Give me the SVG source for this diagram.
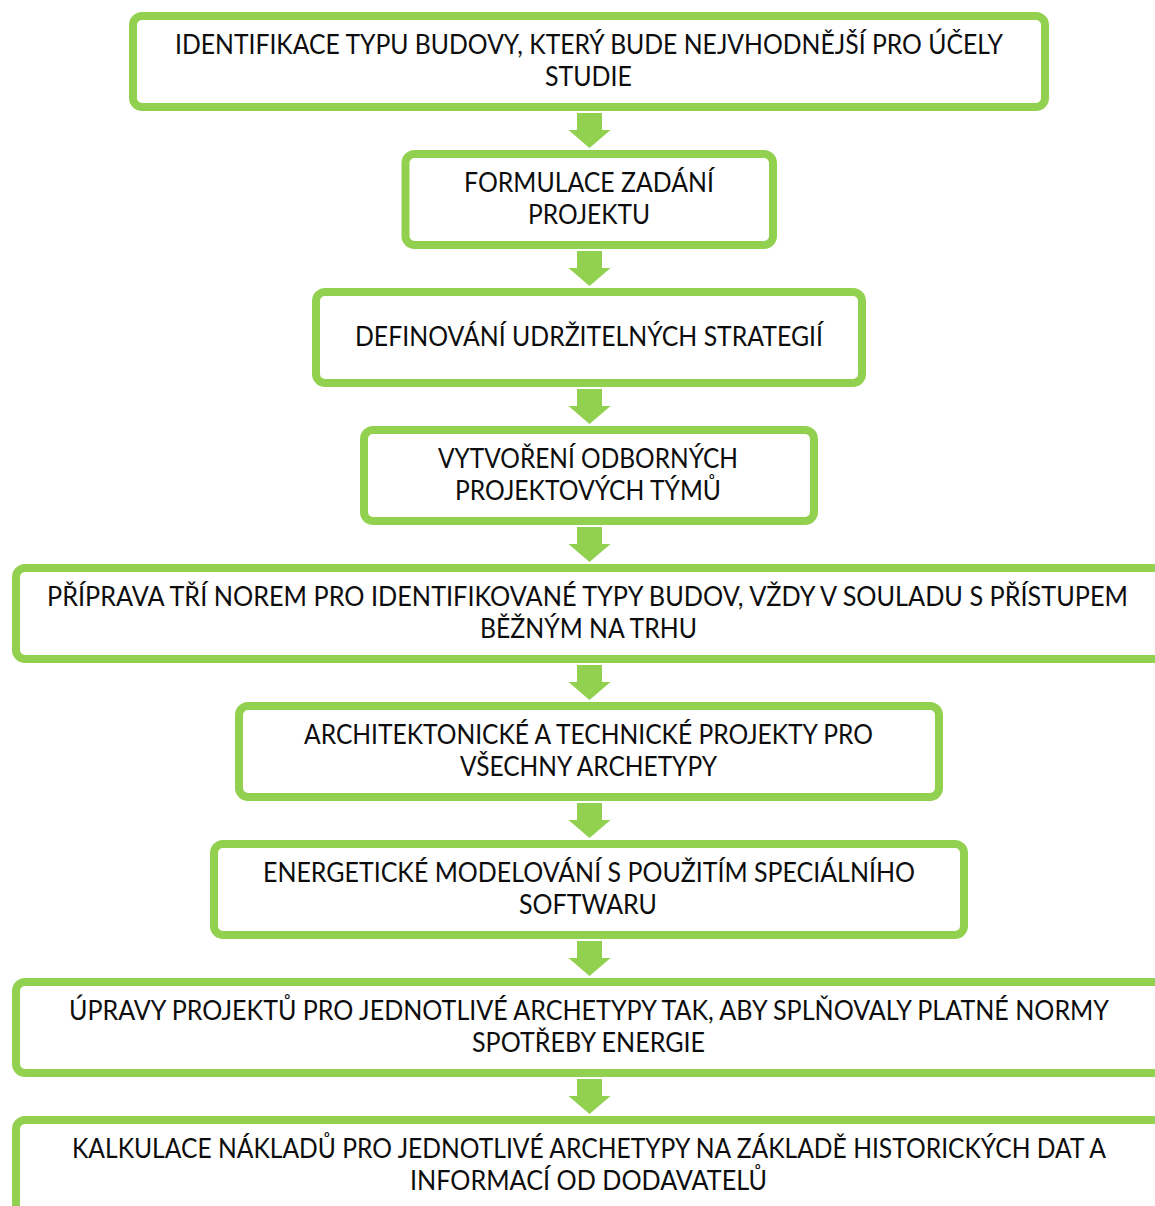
<svg xmlns="http://www.w3.org/2000/svg" xmlns:xlink="http://www.w3.org/1999/xlink" width="1155" height="1206" viewBox="0 0 1155 1206">
<style>
.box{fill:#ffffff;stroke:#92D050;stroke-width:8}
.t{font-family:Lato,"Liberation Sans",sans-serif;font-size:26px;fill:#0d0d0d;text-anchor:middle}
.arr{fill:#92D050}
</style>
<defs>
<path id="arrow" d="M-12.5,0 H12.5 V17 H21 L0,35 L-21,17 H-12.5 Z"/>
</defs>
<rect width="1155" height="1206" fill="#ffffff"/>
<g id="connectors" class="arr">
<use xlink:href="#arrow" transform="translate(589.5,113)"/>
<use xlink:href="#arrow" transform="translate(589.5,251)"/>
<use xlink:href="#arrow" transform="translate(589.5,389)"/>
<use xlink:href="#arrow" transform="translate(589.5,527)"/>
<use xlink:href="#arrow" transform="translate(589.5,665)"/>
<use xlink:href="#arrow" transform="translate(589.5,803)"/>
<use xlink:href="#arrow" transform="translate(589.5,941)"/>
<use xlink:href="#arrow" transform="translate(589.5,1079)"/>
</g>
<g id="n1">
<rect class="box" x="133" y="16" width="912" height="91" rx="9"/>
<text class="t" x="589" y="54" textLength="828" lengthAdjust="spacingAndGlyphs">IDENTIFIKACE TYPU BUDOVY, KTERÝ BUDE NEJVHODNĚJŠÍ PRO ÚČELY</text>
<text class="t" x="588.5" y="86" textLength="87" lengthAdjust="spacingAndGlyphs">STUDIE</text>
</g>
<g id="n2">
<rect class="box" x="405.5" y="154" width="367.5" height="91" rx="9"/>
<text class="t" x="589" y="192" textLength="250" lengthAdjust="spacingAndGlyphs">FORMULACE ZADÁNÍ</text>
<text class="t" x="589" y="224" textLength="122" lengthAdjust="spacingAndGlyphs">PROJEKTU</text>
</g>
<g id="n3">
<rect class="box" x="316" y="292" width="546" height="91" rx="9"/>
<text class="t" x="589" y="346" textLength="468" lengthAdjust="spacingAndGlyphs">DEFINOVÁNÍ UDRŽITELNÝCH STRATEGIÍ</text>
</g>
<g id="n4">
<rect class="box" x="364" y="430" width="450" height="91" rx="9"/>
<text class="t" x="588" y="468" textLength="300" lengthAdjust="spacingAndGlyphs">VYTVOŘENÍ ODBORNÝCH</text>
<text class="t" x="588" y="500" textLength="266" lengthAdjust="spacingAndGlyphs">PROJEKTOVÝCH TÝMŮ</text>
</g>
<g id="n5">
<rect class="box" x="16" y="568" width="1150" height="91" rx="9"/>
<text class="t" x="587.5" y="606" textLength="1081" lengthAdjust="spacingAndGlyphs">PŘÍPRAVA TŘÍ NOREM PRO IDENTIFIKOVANÉ TYPY BUDOV, VŽDY V SOULADU S PŘÍSTUPEM</text>
<text class="t" x="588.5" y="638" textLength="217" lengthAdjust="spacingAndGlyphs">BĚŽNÝM NA TRHU</text>
</g>
<g id="n6">
<rect class="box" x="239" y="706" width="700" height="91" rx="9"/>
<text class="t" x="588.5" y="744" textLength="569" lengthAdjust="spacingAndGlyphs">ARCHITEKTONICKÉ A TECHNICKÉ PROJEKTY PRO</text>
<text class="t" x="588.5" y="776" textLength="257" lengthAdjust="spacingAndGlyphs">VŠECHNY ARCHETYPY</text>
</g>
<g id="n7">
<rect class="box" x="214" y="844" width="750" height="91" rx="9"/>
<text class="t" x="589" y="882" textLength="652" lengthAdjust="spacingAndGlyphs">ENERGETICKÉ MODELOVÁNÍ S POUŽITÍM SPECIÁLNÍHO</text>
<text class="t" x="588" y="914" textLength="138" lengthAdjust="spacingAndGlyphs">SOFTWARU</text>
</g>
<g id="n8">
<rect class="box" x="16" y="982" width="1150" height="91" rx="9"/>
<text class="t" x="589" y="1020" textLength="1040" lengthAdjust="spacingAndGlyphs">ÚPRAVY PROJEKTŮ PRO JEDNOTLIVÉ ARCHETYPY TAK, ABY SPLŇOVALY PLATNÉ NORMY</text>
<text class="t" x="588.5" y="1052" textLength="233" lengthAdjust="spacingAndGlyphs">SPOTŘEBY ENERGIE</text>
</g>
<g id="n9">
<rect class="box" x="16" y="1120" width="1150" height="120" rx="9"/>
<text class="t" x="589" y="1158" textLength="1034" lengthAdjust="spacingAndGlyphs">KALKULACE NÁKLADŮ PRO JEDNOTLIVÉ ARCHETYPY NA ZÁKLADĚ HISTORICKÝCH DAT A</text>
<text class="t" x="588.5" y="1190" textLength="357" lengthAdjust="spacingAndGlyphs">INFORMACÍ OD DODAVATELŮ</text>
</g>
</svg>
